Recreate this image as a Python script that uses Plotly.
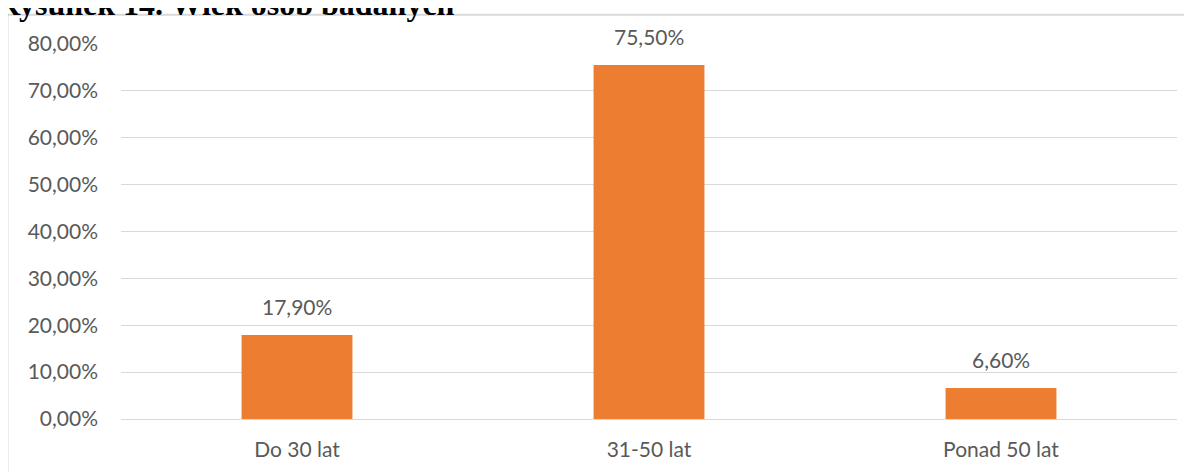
import plotly.graph_objects as go

categories = ["Do 30 lat", "31-50 lat", "Ponad 50 lat"]
values = [17.9, 75.5, 6.6]
value_labels = ["17,90%", "75,50%", "6,60%"]
tick_vals = [0, 10, 20, 30, 40, 50, 60, 70, 80]
tick_text = ["0,00%", "10,00%", "20,00%", "30,00%", "40,00%", "50,00%", "60,00%", "70,00%", "80,00%"]
title_text = "Rysunek 14. Wiek osób badanych"

TEXT = "#595959"
FONT = "Lato"
FS = 21

fig = go.Figure(go.Bar(
    x=categories, y=values, marker=dict(color="#ED7D31", line=dict(width=0)),
    width=0.315, hoverinfo="skip"))

for c, v, t in zip(categories, values, value_labels):
    fig.add_annotation(x=c, y=v, text=t, showarrow=False, yanchor="bottom",
                       yshift=14, font=dict(family=FONT, size=FS, color=TEXT))

fig.add_annotation(xref="paper", yref="paper", x=-0.1195, y=1.0777, xanchor="left",
                   yanchor="bottom", yshift=-9, text="<b>" + title_text + "</b>", showarrow=False,
                   font=dict(family="Liberation Serif", size=32, color="black"))

fig.add_shape(type="rect", xref="paper", yref="paper", x0=-0.1075, x1=1.2, y0=-0.5, y1=1.0777,
              line=dict(color="#D9D9D9", width=2), fillcolor="rgba(0,0,0,0)", layer="below")

fig.update_layout(
    width=1192, height=472,
    margin=dict(l=112.5, r=23, t=35.7, b=60.7, autoexpand=False),
    paper_bgcolor="white", plot_bgcolor="white",
    showlegend=False,
    font=dict(family=FONT, size=FS, color=TEXT),
    xaxis=dict(showgrid=False, showline=False, ticks="", ticklabelstandoff=16, automargin=False,
               tickfont=dict(family=FONT, size=FS, color=TEXT), fixedrange=True),
    yaxis=dict(range=[0, 80], tickvals=tick_vals, ticktext=tick_text, showgrid=True, automargin=False,
               gridcolor="#D9D9D9", gridwidth=1.3, zeroline=True, zerolinecolor="#D9D9D9",
               zerolinewidth=1.3, showline=False, ticks="", ticklabelstandoff=22,
               tickfont=dict(family=FONT, size=FS, color=TEXT), fixedrange=True),
)

fig.write_html("out.html")
